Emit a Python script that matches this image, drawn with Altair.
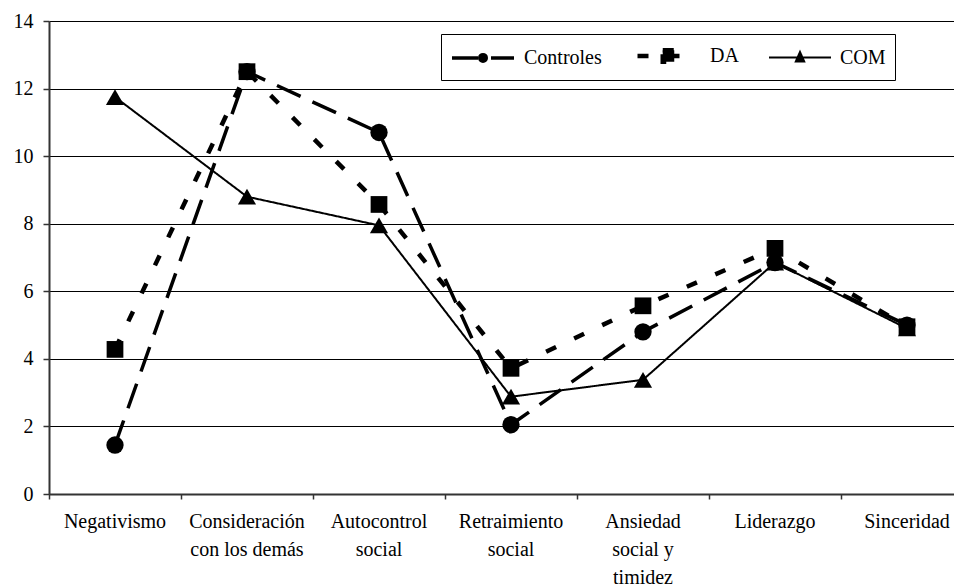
import altair as alt
import pandas as pd

# ---- data ----
categorias = [
    "Negativismo",
    "Consideración\ncon los demás",
    "Autocontrol\nsocial",
    "Retraimiento\nsocial",
    "Ansiedad\nsocial y\ntimidez",
    "Liderazgo",
    "Sinceridad",
]
grupos = ["Controles", "DA", "COM"]
controles = [1.45, 12.5, 10.7, 2.05, 4.8, 6.85, 5.0]
da = [4.28, 12.5, 8.57, 3.72, 5.57, 7.27, 4.95]
com = [11.75, 8.8, 7.95, 2.88, 3.38, 6.85, 4.9]
y_ticks = [0, 2, 4, 6, 8, 10, 12, 14]

valores = {"Controles": controles, "DA": da, "COM": com}
rows = []
for g in grupos:
    for i, (c, v) in enumerate(zip(categorias, valores[g])):
        rows.append({"Categoria": c, "Grupo": g, "Valor": v, "idx": i})
df = pd.DataFrame(rows)

# ---- styles ----
FONT = "Times New Roman, Liberation Serif, serif"
FS = 20
dashes = [[26, 13], [11, 20], [1, 0]]
widths = [3.5, 4.5, 2]
marker = {"Controles": ("circle", 300), "DA": ("square", 280), "COM": ("triangle-up", 330)}
# legend glyphs: a 62px line segment with the marker in its middle (unit = 10px)
legend_paths = [
    "M-1,0L5.2,0M2.425,0A0.325,0.325,0,1,1,1.775,0A0.325,0.325,0,1,1,2.425,0Z",
    "M-1,0L5.2,0M1.525,-0.575L2.675,-0.575L2.675,0.575L1.525,0.575Z",
    "M-1,0L5.2,0M2.1,-0.55L2.52,0.4L1.68,0.4Z",
]

x_enc = alt.X(
    "Categoria:N",
    sort=categorias,
    scale=alt.Scale(type="band", domain=categorias, range=[0, 924], paddingInner=0, paddingOuter=0),
    axis=alt.Axis(
        title=None,
        labelAngle=0,
        bandPosition=0,
        tickSize=5,
        tickColor="#333333",
        tickWidth=1.5,
        domainColor="#333333",
        domainWidth=2,
        labelPadding=12,
        labelFont=FONT,
        labelFontSize=FS,
        labelColor="black",
        labelLineHeight=28,
        labelOverlap=False,
        labelExpr="split(datum.label, '\\n')",
        grid=False,
    ),
)
y_enc = alt.Y(
    "Valor:Q",
    scale=alt.Scale(domain=[0, 14], nice=False, zero=True),
    axis=alt.Axis(
        title=None,
        values=y_ticks,
        tickSize=6,
        tickColor="#333333",
        tickWidth=1.5,
        domainColor="#333333",
        domainWidth=2,
        labelPadding=10,
        labelFont=FONT,
        labelFontSize=FS,
        labelColor="black",
        gridColor="black",
        gridWidth=1,
        grid=True,
    ),
)

dash_scale = alt.Scale(type="ordinal", domain=grupos, range=dashes)
width_scale = alt.Scale(type="ordinal", domain=grupos, range=widths)
shape_scale = alt.Scale(type="ordinal", domain=grupos, range=legend_paths)

leg = alt.Legend(
    title=None,
    orient="none",
    legendX=392,
    legendY=13,
    direction="horizontal",
    symbolSize=400,
    labelFont=FONT,
    labelFontSize=FS,
    labelColor="black",
    labelOffset=50,
    columnPadding=26,
    padding=9,
    strokeColor="black",
    fillColor="white",
)

# legend-only layer (draws nothing, supplies the combined legend)
legend_layer = (
    alt.Chart(df)
    .transform_filter("false")
    .mark_point(filled=True, color="black", fill="black", stroke="black", opacity=1)
    .encode(
        x=x_enc,
        y=y_enc,
        shape=alt.Shape("Grupo:N", scale=shape_scale, legend=leg),
        strokeDash=alt.StrokeDash("Grupo:N", scale=dash_scale, legend=leg),
        strokeWidth=alt.StrokeWidth("Grupo:N", scale=width_scale, legend=leg),
    )
)

lines = alt.Chart(df).mark_line(color="black").encode(
    x=x_enc,
    y=y_enc,
    strokeDash=alt.StrokeDash("Grupo:N", scale=dash_scale, legend=leg),
    strokeWidth=alt.StrokeWidth("Grupo:N", scale=width_scale, legend=leg),
    order=alt.Order("idx:Q"),
)

layers = [legend_layer, lines]
for g in grupos:
    shp, sz = marker[g]
    layers.append(
        alt.Chart(df)
        .transform_filter(alt.datum.Grupo == g)
        .mark_point(shape=shp, size=sz, filled=True, color="black", opacity=1)
        .encode(x=x_enc, y=y_enc)
    )

chart = (
    alt.layer(*layers)
    .properties(
        width=905,
        height=473,
        autosize=alt.AutoSizeParams(type="none"),
        padding={"left": 41, "top": 13, "right": 0, "bottom": 92},
    )
    .configure_view(strokeWidth=0)
    .configure(background="white")
)

chart.save("out.html", embed_options={"renderer": "svg", "actions": False})
